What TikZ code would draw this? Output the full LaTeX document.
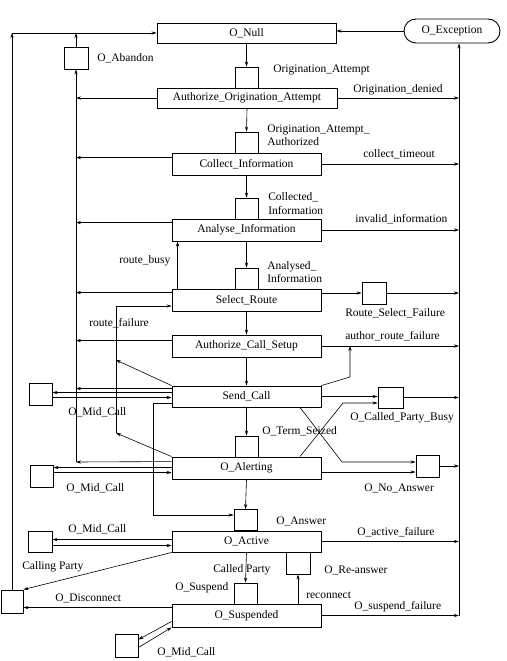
\documentclass[tikz,border=0pt]{standalone}
\usepackage{fontspec}
\setmainfont{Liberation Serif}
\usetikzlibrary{arrows.meta}

\tikzset{
  state/.style={draw, line width=0.9pt, minimum width=149pt, minimum height=22pt, inner sep=0pt},
  dp/.style={draw, line width=0.9pt, minimum width=23pt, minimum height=21pt, inner sep=0pt},
  lbl/.style={anchor=west, inner sep=0pt},
}

\begin{document}
\begin{tikzpicture}[x=1pt, y=-1pt, >={Stealth[length=5pt,width=3.2pt]}, line width=0.6pt,
    font=\fontsize{11.5}{13.5}\selectfont]
\useasboundingbox (0,0) rectangle (506,661);

    % states
    \node[state, minimum width=179pt, minimum height=20pt] (null) at (246.5,33) {O\_Null};
    \node[draw, line width=0.9pt, rounded corners=12pt, minimum width=96pt, minimum height=24pt, inner sep=0pt] (exc) at (452,31) {O\_Exception};
    \node[state, minimum width=180pt, minimum height=20pt] (aoa) at (247,98) {Authorize\_Origination\_Attempt};
    \node[state] (ci) at (246.5,164) {Collect\_Information};
    \node[state] (ai) at (246.5,230) {Analyse\_Information};
    \node[state] (sr) at (246.5,300) {Select\_Route};
    \node[state] (acs) at (246.5,346) {Authorize\_Call\_Setup};
    \node[state, minimum height=21pt] (sc) at (246.5,396.5) {Send\_Call};
    \node[state] (alert) at (246.5,468) {O\_Alerting};
    \node[state, minimum height=21pt] (act) at (246.5,541.5) {O\_Active};
    \node[state, minimum height=23pt] (susp) at (246.5,615.5) {O\_Suspended};

    % detection points
    \node[dp] (dpOA) at (246.5,77.5) {};
    \node[dp] (dpOAA) at (246.5,142.5) {};
    \node[dp] (dpCI) at (246.5,208.5) {};
    \node[dp] (dpAI) at (246.5,278.5) {};
    \node[dp] (dpTS) at (246.5,446.5) {};
    \node[dp] (dpAns) at (245.5,520) {};
    \node[dp] (dpSusp) at (245.5,593.5) {};
    \node[dp, minimum width=24pt, minimum height=22pt] (dpRe) at (298,563) {};
    \node[dp, minimum width=24pt, minimum height=22pt] (abandon) at (76,58) {};
    \node[dp, minimum width=24pt, minimum height=22pt] (rsf) at (374,293) {};
    \node[dp, minimum width=25pt] (cpb) at (390.5,397.5) {};
    \node[dp, minimum height=22pt] (noans) at (427.5,466) {};
    \node[dp, minimum height=22pt] (mid1) at (40.5,394) {};
    \node[dp, minimum height=22pt] (mid2) at (41.5,476) {};
    \node[dp, minimum width=24pt] (mid3) at (40,541.5) {};
    \node[dp, minimum height=23pt] (mid4) at (126.5,645.5) {};
    \node[dp, minimum width=22pt, minimum height=23pt] (disc) at (12,601.5) {};

    % labels
    \node[lbl] (lAb) at (97,58) {O\_Abandon};
    \node[lbl] (lOA) at (273,70) {Origination\_Attempt};
    \node[lbl] (lOd) at (353,90) {Origination\_denied};
    \node[lbl, align=left] (lOAA) at (267,135) {Origination\_Attempt\_\\Authorized};
    \node[lbl] (lct) at (363,154) {collect\_timeout};
    \node[lbl, align=left] (lCI) at (268,203.5) {Collected\_\\Information};
    \node[lbl] (lii) at (355,219) {invalid\_information};
    \node[lbl, align=left] (lAI) at (267,272) {Analysed\_\\Information};
    \node[lbl] (lrb) at (119,261) {route\_busy};
    \node[lbl] (lrsf) at (345,313) {Route\_Select\_Failure};
    \node[lbl] (lrf) at (89,323) {route\_failure};
    \node[lbl] (larf) at (345,336) {author\_route\_failure};
    \node[lbl] (lm1) at (68,412) {O\_Mid\_Call};
    \node[lbl] (lcpb) at (350,418) {O\_Called\_Party\_Busy};
    \node[lbl] (lts) at (262,431) {O\_Term\_Seized};
    \node[lbl] (lm2) at (66,488) {O\_Mid\_Call};
    \node[lbl] (lna) at (364,488) {O\_No\_Answer};
    \node[lbl] (lans) at (276,521) {O\_Answer};
    \node[lbl] (lm3) at (68,529) {O\_Mid\_Call};
    \node[lbl] (laf) at (357,532) {O\_active\_failure};
    \node[lbl] (lcgp) at (22,567) {Calling Party};
    \node[lbl] (lcdp) at (213,570) {Called Party};
    \node[lbl] (lre) at (324,570) {O\_Re-answer};
    \node[lbl] (lsus) at (175,588) {O\_Suspend};
    \node[lbl] (lrec) at (306,595) {reconnect};
    \node[lbl] (ldis) at (55,598) {O\_Disconnect};
    \node[lbl] (lsf) at (354,607) {O\_suspend\_failure};
    \node[lbl] (lm4) at (157,652) {O\_Mid\_Call};

    % corner points
    \coordinate (rb) at (459,615.5);
    \coordinate (lb) at (76,462);
    \coordinate (tl) at (12,33);
    \coordinate (arf) at (350,377);
    \coordinate (cpbx) at (343,403);
    \coordinate (nax) at (342,462);
    \coordinate (rft) at (116,306);
    \coordinate (rfm) at (116,360);
    \coordinate (rfb) at (116,433);
    \coordinate (ant) at (153,403);
    \coordinate (anb) at (153,515);

    % main flow
    \draw [->] (exc.west) -- (exc.west -| null.east);
    \draw [->] (null.south) -- (dpOA.north);
    \draw [->] (aoa.south) -- (dpOAA.north);
    \draw [->] (ci.south) -- (dpCI.north);
    \draw [->] (ai.south) -- (dpAI.north);
    \draw [->] (sr.south) -- (acs.north);
    \draw [->] (acs.south) -- (sc.north);
    \draw [->] (sc.south) -- (dpTS.north);
    \draw [->] (alert.south) -- (dpAns.north);
    \draw [->] (act.south) -- (dpSusp.north);
    \draw [->] (susp.north -| dpRe) -- (dpRe.south);

    % exceptions, right bus
    \draw [->] (aoa.east) -- (aoa.east -| rb);
    \draw [->] (ci.east) -- (ci.east -| rb);
    \draw [->] (ai.east) -- (ai.east -| rb);
    \draw [->] (sr.east |- rsf) -- (rsf.west);
    \draw [->] (rsf.east) -- (rsf.east -| rb);
    \draw [->] (acs.east) -- (acs.east -| rb);
    \draw [->] (sc.north east) -- (arf) -- (arf |- acs.east);
    \draw [->] (sc.east) -- (sc.east -| cpb.west);
    \draw [->] ([xshift=53.5pt]alert.north) -- (cpbx) -- (cpbx -| cpb.west);
    \draw [->] (cpb.east) -- (cpb.east -| rb);
    \draw [->] ([xshift=53.5pt]sc.south) -- (nax) -- (nax -| noans.west);
    \draw [->] ([yshift=-4pt]alert.east) -- ([yshift=-4pt]alert.east -| noans.west);
    \draw [->] (noans.east) -- (noans.east -| rb);
    \draw [->] (act.east) -- (act.east -| rb);
    \draw [->] (susp.east) -- (rb);
    \draw [->] (rb) -- (rb |- exc.south);

    % abandon, left bus
    \draw [->] (aoa.west) -- (aoa.west -| lb);
    \draw [->] ([yshift=-5pt]ci.north west) -- ([yshift=-5pt]ci.north west -| lb);
    \draw [->] ([yshift=-4pt]ai.north west) -- ([yshift=-4pt]ai.north west -| lb);
    \draw [->] ([yshift=-4pt]sr.north west) -- ([yshift=-4pt]sr.north west -| lb);
    \draw [->] ([yshift=-6pt]acs.north west) -- ([yshift=-6pt]acs.north west -| lb);
    \draw [->] ([yshift=-3pt]sc.north west) -- ([yshift=-3pt]sc.north west -| lb);
    \draw [->] ([yshift=-5pt]alert.north west) -- (lb);
    \draw [->] (lb) -- (abandon.south);
    \draw [->] (abandon.north) -- (abandon.north |- tl);
    \draw [->] (disc.north) -- (tl);
    \draw [->] (tl) -- (tl -| null.west);

    % route busy / failure
    \draw [->] ([xshift=6pt]sr.north west) -- ([xshift=6pt]ai.south west);
    \draw [->] (rfb) -- (rft) -- (rft -| sr.west);
    \draw [->] (sc.north west) -- (rfm);
    \draw [->] (alert.north west) -- (rfb);

    % answer from send call
    \draw [->] (ant -| sc.west) -- (ant) -- (anb) -- (anb -| dpAns.west);

    % mid call
    \draw [->] ([yshift=-7pt]sc.north west) -- ([yshift=-7pt]sc.north west -| mid1.east);
    \draw [->] ([yshift=-12pt]sc.north west -| mid1.east) -- ([yshift=-12pt]sc.north west);
    \draw [->] ([yshift=-11pt]alert.north west) -- ([yshift=-11pt]alert.north west -| mid2.east);
    \draw [->] ([yshift=-16pt]alert.north west -| mid2.east) -- ([yshift=-16pt]alert.north west);
    \draw [->] ([yshift=-9pt]act.north west) -- ([yshift=-9pt]act.north west -| mid3.east);
    \draw [->] ([yshift=-15pt]act.north west -| mid3.east) -- ([yshift=-15pt]act.north west);
    \draw [->] ([yshift=6pt]susp.south west) -- ([yshift=-6pt]mid4.north east);
    \draw [->] ([yshift=-14pt]mid4.north east) -- (susp.south west);

    % disconnect
    \draw [->] (act.south west) -- (disc.north east);
    \draw [->] ([yshift=-4pt]susp.north west) -- ([yshift=-4pt]susp.north west -| disc.east);

\end{tikzpicture}
\end{document}
